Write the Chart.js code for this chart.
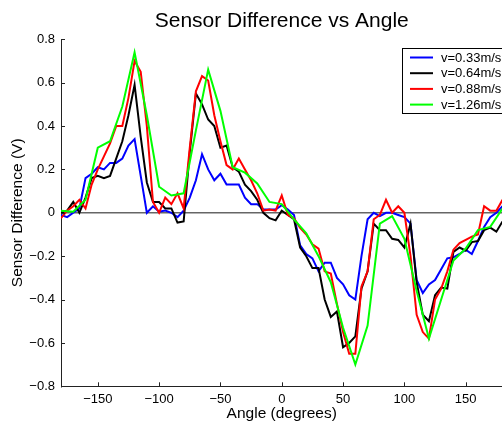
<!DOCTYPE html>
<html>
<head>
<meta charset="utf-8">
<script src="https://cdn.jsdelivr.net/npm/chart.js@4/dist/chart.umd.min.js"></script>
<style>
  html, body { margin: 0; padding: 0; background: #fff; }
  #wrap { width: 502px; height: 425px; overflow: hidden; position: relative; }
  canvas { display: block; }
</style>
</head>
<body>
<div id="wrap"><canvas id="chart" width="600" height="425"></canvas></div>
<script>
// angles (degrees) for the 5 degree sweeps
const angles5 = [-180, -175, -170, -165, -160, -155, -150, -145, -140, -135, -130, -125, -120, -115, -110, -105,
  -100, -95, -90, -85, -80, -75, -70, -65, -60, -55, -50, -45, -40, -35, -30, -25, -20, -15, -10, -5,
  0, 5, 10, 15, 20, 25, 30, 35, 40, 45, 50, 55, 60, 65, 70, 75, 80, 85, 90, 95, 100, 105,
  110, 115, 120, 125, 130, 135, 140, 145, 150, 155, 160, 165, 170, 175, 180];
// the fastest run was sampled every 10 degrees
const angles10 = [-180, -170, -160, -150, -140, -130, -120, -110, -100, -90, -80, -70, -60, -50, -40, -30, -20, -10,
  0, 10, 20, 30, 40, 50, 60, 70, 80, 90, 100, 110, 120, 130, 140, 150, 160, 170, 180];

const v033 = [-0.01, -0.02, 0.0, 0.02, 0.16, 0.18, 0.21, 0.2, 0.23, 0.23, 0.25, 0.31, 0.34, 0.17, 0.0, 0.03,
  0.005, 0.01, 0.0, -0.02, 0.01, 0.07, 0.15, 0.27, 0.2, 0.15, 0.18, 0.13, 0.13, 0.13, 0.07, 0.04, 0.04, 0.015, 0.015, 0.015,
  0.035, 0.015, -0.01, -0.15, -0.19, -0.21, -0.27, -0.23, -0.23, -0.3, -0.33, -0.38, -0.4, -0.2, -0.03, 0.0, -0.015, 0.0, 0.0, -0.01, -0.02, -0.05,
  -0.31, -0.37, -0.33, -0.31, -0.26, -0.21, -0.205, -0.19, -0.17, -0.19, -0.13, -0.065, -0.02, 0.0, 0.03];

const v064 = [0.0, 0.01, 0.05, 0.0, 0.07, 0.16, 0.17, 0.16, 0.17, 0.25, 0.33, 0.45, 0.59, 0.35, 0.14, 0.05,
  0.05, 0.02, 0.02, -0.045, -0.04, 0.28, 0.55, 0.5, 0.43, 0.4, 0.3, 0.31, 0.21, 0.19, 0.13, 0.1, 0.06, 0.0, -0.025, -0.035,
  0.01, -0.01, -0.03, -0.16, -0.2, -0.255, -0.255, -0.4, -0.48, -0.455, -0.62, -0.6, -0.57, -0.35, -0.27, -0.05, -0.08, -0.08, -0.12, -0.125, -0.16, -0.05,
  -0.32, -0.47, -0.5, -0.38, -0.345, -0.35, -0.18, -0.16, -0.175, -0.135, -0.13, -0.08, -0.068, -0.087, -0.04];

const v088 = [-0.025, 0.01, 0.03, 0.06, 0.02, 0.13, 0.2, 0.26, 0.32, 0.4, 0.4, 0.53, 0.7, 0.65, 0.4, 0.05,
  0.0, 0.07, 0.04, 0.09, 0.02, 0.3, 0.56, 0.63, 0.61, 0.45, 0.33, 0.22, 0.2, 0.25, 0.2, 0.15, 0.09, 0.01, 0.015, 0.01,
  0.08, -0.01, -0.025, -0.07, -0.1, -0.145, -0.165, -0.27, -0.28, -0.42, -0.55, -0.65, -0.65, -0.34, -0.27, -0.03, -0.01, 0.06, 0.0, 0.03, 0.0, -0.2,
  -0.47, -0.55, -0.58, -0.4, -0.35, -0.27, -0.17, -0.14, -0.125, -0.11, -0.1, 0.03, 0.01, 0.01, 0.06];

const v126 = [0.01, 0.005, 0.06, 0.3, 0.33, 0.49, 0.74, 0.45, 0.12, 0.08, 0.09, 0.38, 0.66, 0.47, 0.21, 0.185, 0.135, 0.05,
  0.04, -0.03, -0.095, -0.2, -0.32, -0.53, -0.7, -0.52, -0.05, -0.015, -0.12, -0.36, -0.58, -0.4, -0.22, -0.165, -0.08, -0.065, 0.02];

const seriesLabels = ["v=0.33m/s", "v=0.64m/s", "v=0.88m/s", "v=1.26m/s"];
const seriesColors = ["#0000ff", "#000000", "#ff0000", "#00ff00"];
const xTicks = [-150, -100, -50, 0, 50, 100, 150];
const yTicks = [-0.8, -0.6, -0.4, -0.2, 0, 0.2, 0.4, 0.6, 0.8];

function pts(xs, ys) {
  return xs.map((x, i) => ({ x: x, y: ys[i] }));
}

function fmt(v) {
  if (Math.abs(v) < 1e-9) return "0";
  let s = Number.isInteger(v) ? String(v) : v.toFixed(1);
  return s.replace("-", "\u2212");
}

const FONT = "'Liberation Sans', Arial, Helvetica, sans-serif";

// title, inside tick marks and the legend box
const extras = {
  id: "extras",
  afterDraw(chart) {
    const ctx = chart.ctx;
    const ca = chart.chartArea;
    const xs = chart.scales.x;
    const ys = chart.scales.y;
    ctx.save();

    // inward ticks
    ctx.strokeStyle = "#222";
    ctx.lineWidth = 1;
    ctx.beginPath();
    xTicks.forEach(t => {
      const px = Math.round(xs.getPixelForValue(t)) + 0.5;
      ctx.moveTo(px, ca.bottom);
      ctx.lineTo(px, ca.bottom - 4);
    });
    yTicks.forEach(t => {
      const py = Math.round(ys.getPixelForValue(t)) + 0.5;
      ctx.moveTo(ca.left, py);
      ctx.lineTo(ca.left + 4, py);
    });
    ctx.stroke();

    // title
    ctx.fillStyle = "#000";
    ctx.font = "21px " + FONT;
    ctx.textAlign = "center";
    ctx.textBaseline = "alphabetic";
    ctx.fillText("Sensor Difference vs Angle", (ca.left + ca.right) / 2, 26.5);

    // legend
    const bx = 402.5, by = 48.5, bw = 130, bh = 65;
    ctx.fillStyle = "#fff";
    ctx.fillRect(bx, by, bw, bh);
    ctx.strokeStyle = "#000";
    ctx.strokeRect(bx, by, bw, bh);
    ctx.font = "13px " + FONT;
    ctx.textAlign = "left";
    ctx.textBaseline = "middle";
    chart.data.datasets.forEach((ds, i) => {
      const ry = by + 9 + i * 15.7;
      ctx.strokeStyle = ds.borderColor;
      ctx.lineWidth = 2;
      ctx.beginPath();
      ctx.moveTo(410, ry);
      ctx.lineTo(433, ry);
      ctx.stroke();
      ctx.fillStyle = "#000";
      ctx.fillText(ds.label, 441, ry + 0.5);
    });
    ctx.restore();
  }
};

const ctx = document.getElementById("chart");
new Chart(ctx, {
  type: "line",
  data: {
    datasets: [
      { label: seriesLabels[0], data: pts(angles5, v033), borderColor: seriesColors[0], order: 4 },
      { label: seriesLabels[1], data: pts(angles5, v064), borderColor: seriesColors[1], order: 3 },
      { label: seriesLabels[2], data: pts(angles5, v088), borderColor: seriesColors[2], order: 2 },
      { label: seriesLabels[3], data: pts(angles10, v126), borderColor: seriesColors[3], order: 1 }
    ]
  },
  options: {
    responsive: false,
    animation: false,
    devicePixelRatio: 1,
    layout: { padding: { left: 0, top: 39.3, right: 97.5, bottom: 0 } },
    elements: {
      line: { borderWidth: 2, tension: 0, fill: false },
      point: { radius: 0, hoverRadius: 0 }
    },
    plugins: { legend: { display: false }, tooltip: { enabled: false } },
    scales: {
      x: {
        type: "linear",
        min: -180,
        max: 180,
        afterFit: s => { s.height = 38.7; },
        afterBuildTicks: s => { s.ticks = xTicks.map(v => ({ value: v })); },
        grid: { display: false, drawTicks: false },
        border: { display: true, color: "#222", width: 1 },
        ticks: { padding: 5, color: "#000", font: { size: 13, family: FONT }, callback: v => fmt(v), maxRotation: 0 },
        title: { display: true, text: "Angle (degrees)", color: "#000", font: { size: 15.5, family: FONT }, padding: { top: 0, bottom: 2.4 } }
      },
      y: {
        min: -0.8,
        max: 0.8,
        afterFit: s => { s.width = 61; },
        afterBuildTicks: s => { s.ticks = yTicks.map(v => ({ value: v })); },
        grid: {
          display: true,
          drawTicks: false,
          color: c => (c.tick && Math.abs(c.tick.value) < 1e-9 ? "#666" : "rgba(0,0,0,0)"),
          lineWidth: 1.5
        },
        border: { display: true, color: "#222", width: 1 },
        ticks: { padding: 6, color: "#000", font: { size: 13, family: FONT }, callback: v => fmt(v) },
        title: { display: true, text: "Sensor Difference (V)", color: "#000", font: { size: 15.5, family: FONT }, padding: { top: 8.7, bottom: 0 } }
      }
    }
  },
  plugins: [extras]
});
</script>
</body>
</html>
